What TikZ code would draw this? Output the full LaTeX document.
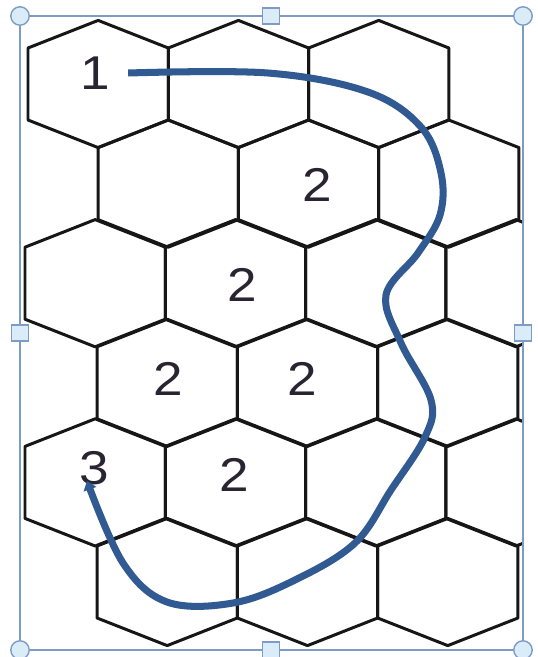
\documentclass[tikz,border=0pt]{standalone}
\usepackage{fontspec}
\setmainfont{Liberation Sans}
\usepackage{tikz}
\usetikzlibrary{arrows.meta}
\definecolor{gridline}{RGB}{22,22,22}
\definecolor{route}{RGB}{48,90,145}
\definecolor{framecol}{RGB}{125,155,198}
\definecolor{handlefill}{RGB}{218,236,247}
\definecolor{digitcol}{RGB}{40,36,50}
\tikzset{
  cell/.style={draw=gridline, line width=1.7pt, line join=round},
  cell digit/.style={font=\fontsize{27}{27}\selectfont, text=digitcol, inner sep=0pt, xscale=1.12},
  route line/.style={draw=route, line width=4pt, -{Triangle[length=5pt,width=7.5pt]}},
  frame line/.style={draw=framecol, line width=1pt},
  corner handle/.style={circle, draw=framecol, fill=handlefill, line width=0.8pt, minimum size=10.5pt, inner sep=0pt},
  side handle/.style={rectangle, draw=framecol, fill=handlefill, line width=0.8pt, minimum width=10pt, minimum height=9pt, inner sep=0pt},
  pics/hexcell/.style={code={
    \draw[cell] (0,-63.6) -- (70.15,-36) -- (70.15,36) -- (0,63.6) -- (-70.15,36) -- (-70.15,-36) -- cycle;
  }},
}

\begin{document}
\begin{tikzpicture}[x=0.02cm, y=-0.02cm]
  \useasboundingbox (0,0) rectangle (538,657);

  % honeycomb, clipped at the right edge of the frame
  \begin{scope}
    \clip (20,10) rectangle (523,652);
    \foreach \row/\xs/\n in {0/98.15/2, 1/168.2/2, 2/95.15/3, 3/167.2/2, 4/95.15/3, 5/167.2/2} {
      \foreach \k in {0,...,\n} {
        \pic at ({\xs+140.3*\k}, {84+99.6*\row}) {hexcell};
      }
    }
  \end{scope}

  % cell numbers
  \node[cell digit] (c1) at (95,73) {1};
  \node[cell digit] (c2a) at (317,185) {2};
  \node[cell digit] (c2b) at (242,285) {2};
  \node[cell digit] (c2c) at (168,379) {2};
  \node[cell digit] (c2d) at (302,379) {2};
  \node[cell digit] (c2e) at (234,475) {2};
  \node[cell digit] (c3) at (94,468) {3};

  % route from cell 1 to cell 3
  \coordinate (routestart) at ([xshift=18*0.02cm]c1.east);
  \coordinate (routeend) at (87,481);
  \draw[route line] plot[smooth, tension=0.6] coordinates {
    (routestart) (268,73) (368,92) (421,127) (441,173) (440,215) (418,253)
    (386,295) (401,343) (431,400) (425,437) (391,490) (355,543) (295,580)
    (233,603) (167,602) (123,563) (routeend)};

  % selection frame
  \draw[frame line] (20,16) rectangle (523,650);
  \node[corner handle] (nw) at (20,16) {};
  \node[corner handle] (ne) at (523,16) {};
  \node[corner handle] (sw) at (20,650) {};
  \node[corner handle] (se) at (523,650) {};
  \node[side handle] (n) at (271,16) {};
  \node[side handle] (s) at (271,650) {};
  \node[side handle] (w) at (20,333) {};
  \node[side handle] (e) at (523,333) {};
\end{tikzpicture}
\end{document}
